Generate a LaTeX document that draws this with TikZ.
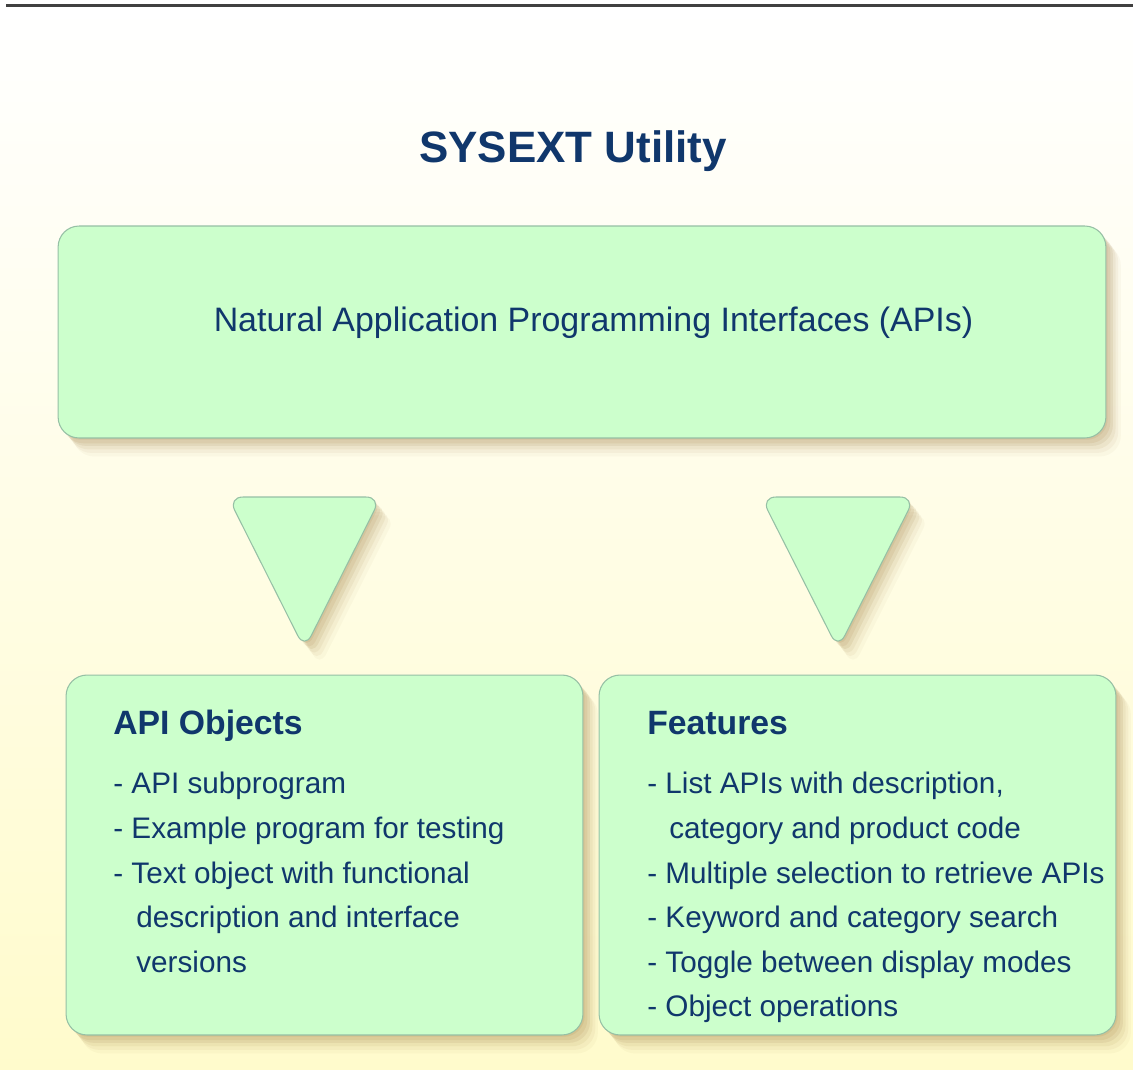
\documentclass[tikz,border=0pt]{standalone}
\usepackage{fontspec}
\setmainfont{Liberation Sans}
\usetikzlibrary{shadows}
\definecolor{navy}{RGB}{16,55,108}
\definecolor{boxfill}{RGB}{204,255,204}
\definecolor{boxline}{RGB}{150,192,165}
\definecolor{shadowc}{RGB}{150,112,50}
\definecolor{paper}{RGB}{255,251,204}

\begin{document}
\begin{tikzpicture}[x=0.02cm, y=-0.02cm,
    softshadow/.style={
        drop shadow={shadow xshift=1pt, shadow yshift=-1pt, fill=shadowc, opacity=.1},
        drop shadow={shadow xshift=2.5pt, shadow yshift=-3pt, fill=shadowc, opacity=.1},
        drop shadow={shadow xshift=4pt, shadow yshift=-4.5pt, fill=shadowc, opacity=.1},
        drop shadow={shadow xshift=5.5pt, shadow yshift=-6.5pt, fill=shadowc, opacity=.08},
        drop shadow={shadow xshift=7pt, shadow yshift=-8.5pt, fill=shadowc, opacity=.06},
        drop shadow={shadow xshift=8.5pt, shadow yshift=-10.5pt, fill=shadowc, opacity=.04}},
    box/.style={draw=boxline, fill=boxfill, line width=0.6pt, rounded corners=0.42cm,
        inner sep=0pt, softshadow},
    tri/.style={draw=boxline, fill=boxfill, line width=0.6pt, rounded corners=0.3cm, softshadow},
    title/.style={text=navy, font=\fontsize{25}{30}\selectfont\bfseries, inner sep=0pt},
    lead/.style={text=navy, font=\fontsize{19.3}{23}\selectfont, inner sep=0pt},
    head/.style={text=navy, font=\fontsize{19.2}{23}\selectfont\bfseries, inner sep=0pt},
    item/.style={text=navy, font=\fontsize{16.9}{20}\selectfont, inner sep=0pt, anchor=base west}]
\useasboundingbox (0,0) rectangle (1133,1069);
% Background and rule
\shade[top color=white, bottom color=paper] (0,8) rectangle (1133,1069);
\draw[line width=1.2pt, black!75] (6,5.5) -- (1133,5.5);
% Title
\node[title, anchor=base] (title) at (573,162) {SYSEXT Utility};
% Top box
\node[box, minimum width=20.96cm, minimum height=4.24cm] (apis) at (582,332) {};
\node[lead, anchor=base] (apistext) at (593.5,331) {Natural Application Programming Interfaces (APIs)};
% Down triangles
\draw[tri] (228,497) -- (381,497) -- (304.5,649) -- cycle;
\draw[tri] (761,497) -- (915,497) -- (838,649) -- cycle;
% Bottom boxes
\node[box, minimum width=10.34cm, minimum height=7.2cm] (objects) at (324.5,855) {};
\node[box, minimum width=10.34cm, minimum height=7.2cm] (features) at (857.5,855) {};
% Box texts
\node[head, anchor=base west] (objhead) at (113,734) {API Objects};
\node[head, anchor=base west] (feathead) at (647,734) {Features};
\foreach \x/\y/\txt in {113/793/{- API subprogram},
                        113/838/{- Example program for testing},
                        113/883/{- Text object with functional},
                        136/927/{description and interface},
                        136/972/{versions}}
    \node[item] at (\x,\y) {\txt};
\foreach \x/\y/\txt in {647/793/{- List APIs with description,},
                        669/838/{category and product code},
                        647/883/{- Multiple selection to retrieve APIs},
                        647/927/{- Keyword and category search},
                        647/972/{- Toggle between display modes},
                        647/1016/{- Object operations}}
    \node[item] at (\x,\y) {\txt};
\end{tikzpicture}
\end{document}
